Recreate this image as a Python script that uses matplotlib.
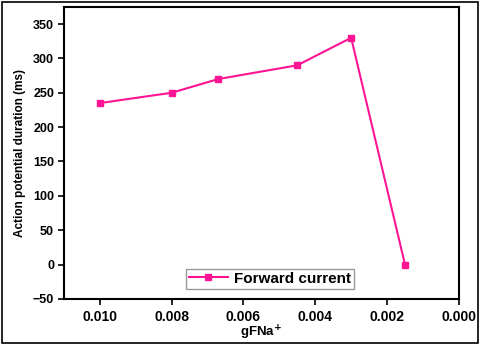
import matplotlib
matplotlib.use("Agg")
import matplotlib.pyplot as plt
from matplotlib.patches import Rectangle

# data
gfna = [0.010, 0.008, 0.0067, 0.0045, 0.003, 0.0015]
apd = [235, 250, 270, 290, 330, 0]
xticks = [0.010, 0.008, 0.006, 0.004, 0.002, 0.000]
yticks = [-50, 0, 50, 100, 150, 200, 250, 300, 350]

PINK = "#ff1493"
plt.rcParams["font.family"] = ["Liberation Sans", "DejaVu Sans"]
plt.rcParams["font.weight"] = "bold"

fig = plt.figure(figsize=(4.8, 3.44), dpi=100)
ax = fig.add_axes([0.133, 0.131, 0.823, 0.849])
ax.plot(gfna, apd, color=PINK, lw=1.5, marker="s", ms=4.5,
        label="Forward current")

ax.set_xlim(0.011, 0.000)
ax.set_ylim(-50, 375)
ax.set_xticks(xticks)
ax.set_xticklabels([f"{t:.3f}" for t in xticks])
ax.set_yticks(yticks)
ax.tick_params(direction="out", length=4, width=1.2, top=False, right=False)
ax.tick_params(axis="x", labelsize=10, pad=4)
ax.tick_params(axis="y", labelsize=9, pad=3)
for lab in ax.get_xticklabels() + ax.get_yticklabels():
    lab.set_fontweight("bold")
for s in ax.spines.values():
    s.set_linewidth(1.5)

ax.set_xlabel("gFNa$^{\\mathbf{+}}$", fontsize=9.5, fontweight="bold", labelpad=0)
ax.set_ylabel("Action potential duration (ms)", fontsize=8.5, fontweight="bold",
              labelpad=5)

ax.legend(loc="lower left", bbox_to_anchor=(0.31, 0.035), fancybox=False,
          edgecolor="#999999", framealpha=1, prop={"weight": "bold", "size": 11},
          handlelength=2.5, handletextpad=0.4, borderpad=0.2, borderaxespad=0)

# outer frame
fig.patches.append(Rectangle((0.004, 0.004), 0.992, 0.99, transform=fig.transFigure,
                             fill=False, edgecolor="black", lw=1.2))

fig.savefig("out.png", dpi=100)
